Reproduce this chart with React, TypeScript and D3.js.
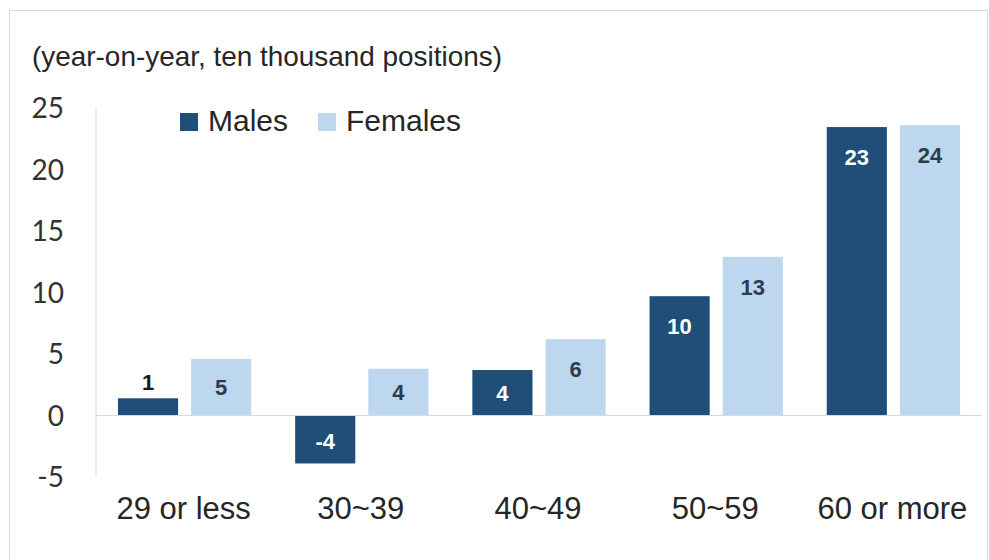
import React from 'react';
import * as d3 from 'd3';

const categories = ['29 or less', '30~39', '40~49', '50~59', '60 or more'];
const series = ['Males', 'Females'];
const males = [1.4, -3.9, 3.7, 9.7, 23.45];
const females = [4.6, 3.8, 6.2, 12.9, 23.6];
const yTicks = [-5, 0, 5, 10, 15, 20, 25];

const W = 989;
const H = 560;
const colors = ['#1f4e79', '#bdd7ee'];
const labelColors = ['#ffffff', '#2f3b4c'];

const App = () => {
  const x = d3.scaleBand().domain(categories).range([96, 982]).padding(0);
  const xs = d3.scaleBand().domain(series).range([0, x.bandwidth()])
    .paddingInner(0.178).paddingOuter(0.3);
  const y = d3.scaleLinear().domain([-5, 25]).range([477, 108]);

  const rows = [males, females];

  return (
    <svg width={W} height={H} style={{ position: 'absolute', left: 0, top: 0, background: '#fff' }}>
      <rect x={9.5} y={10.5} width={978} height={560} fill="#fff" stroke="#d9d9d9" />

      <text x={32} y={66} fontFamily="'Liberation Sans', Arial, sans-serif" fontSize={28}
        fill="#262626" textLength={470} lengthAdjust="spacingAndGlyphs">
        (year-on-year, ten thousand positions)
      </text>

      {/* y axis */}
      <line x1={96} x2={96} y1={y(25)} y2={y(-5)} stroke="#d9d9d9" strokeWidth={1} />
      {yTicks.map(t => (
        <text key={t} x={64} y={y(t)} dy="0.36em" textAnchor="end"
          fontFamily="Lato, 'Open Sans', sans-serif" fontSize={28} fill="#333">
          {t}
        </text>
      ))}

      {/* bars */}
      {categories.map((c, i) => (
        <g key={c} transform={`translate(${x(c)},0)`}>
          {series.map((s, j) => {
            const v = rows[j][i];
            const top = y(Math.max(0, v));
            const h = Math.abs(y(v) - y(0));
            const label = String(Math.round(v));
            let ly;
            let fill = labelColors[j];
            if (h < 30) {
              ly = y(v) - 16;
              fill = '#1a1a1a';
            } else if (v >= 0) {
              ly = top + Math.min(30, h / 2);
            } else {
              ly = y(0) + h / 2 + 2;
            }
            return (
              <g key={s}>
                <rect x={xs(s)} y={top} width={xs.bandwidth()} height={h} fill={colors[j]} />
                <text x={(xs(s) as number) + xs.bandwidth() / 2} y={ly} dy="0.36em" textAnchor="middle"
                  fontFamily="'Liberation Sans', Arial, sans-serif" fontWeight="bold" fontSize={22} fill={fill}>
                  {label}
                </text>
              </g>
            );
          })}
          <text x={x.bandwidth() / 2 - 1} y={519} textAnchor="middle"
            fontFamily="'Liberation Sans', Arial, sans-serif" fontSize={31} fill="#262626">
            {c}
          </text>
        </g>
      ))}

      {/* zero line */}
      <line x1={96} x2={982} y1={y(0)} y2={y(0)} stroke="#d9d9d9" strokeWidth={1.2} />

      {/* legend */}
      {series.map((s, j) => {
        const lx = j === 0 ? 180 : 318;
        return (
          <g key={s}>
            <rect x={lx} y={113} width={18} height={18} fill={colors[j]} />
            <text x={lx + 28} y={131} fontFamily="'Liberation Sans', Arial, sans-serif"
              fontSize={30} fill="#262626">{s}</text>
          </g>
        );
      })}
    </svg>
  );
};

export default App;
